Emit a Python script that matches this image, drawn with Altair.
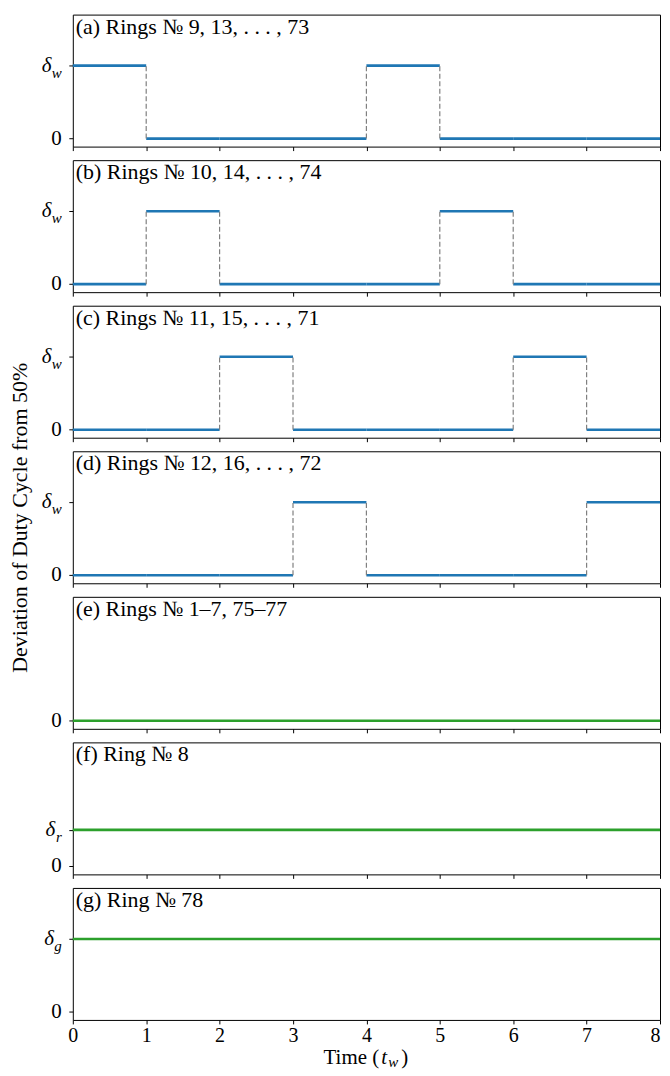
import altair as alt
import pandas as pd

FONT = "Liberation Serif"
BLUE = "#1f77b4"
GREEN = "#2ca02c"
GREY = "#808080"

# ---- data ----
time_ticks = [0, 1, 2, 3, 4, 5, 6, 7, 8]
delta_w = 1.0
delta_r = 0.5
delta_g = 1.0

step_a = [1, 0, 0, 0, 1, 0, 0, 0]
step_b = [0, 1, 0, 0, 0, 1, 0, 0]
step_c = [0, 0, 1, 0, 0, 0, 1, 0]
step_d = [0, 0, 0, 1, 0, 0, 0, 1]

level_e = 0.0
level_f = delta_r
level_g = delta_g

titles = [
    "(a) Rings № 9, 13, . . . , 73",
    "(b) Rings № 10, 14, . . . , 74",
    "(c) Rings № 11, 15, . . . , 71",
    "(d) Rings № 12, 16, . . . , 72",
    "(e) Rings № 1–7, 75–77",
    "(f) Ring № 8",
    "(g) Ring № 78",
]

# y ticks: (value, main symbol, subscript)
yticks_step = [(0.0, "0", ""), (delta_w, "δ", "w")]
yticks_e = [(0.0, "0", "")]
yticks_f = [(0.0, "0", ""), (delta_r, "δ", "r")]
yticks_g = [(0.0, "0", ""), (delta_g, "δ", "g")]

Y_DOMAIN = [-0.11, 1.70]
W, H = 589, 132.4
FS = 21
SUB_W = {"": 0, "w": 10.0, "r": 6.0, "g": 7.5}


def enc_x(bottom):
    return alt.X(
        "x:Q",
        scale=alt.Scale(domain=[0, 8], nice=False, zero=False),
        axis=alt.Axis(
            values=time_ticks, labels=bottom, title=None, grid=False, domain=False,
            tickSize=4, tickColor="black", tickWidth=1, labelFontSize=20,
            labelFont=FONT, labelColor="black", labelPadding=2, format="d",
            labelFlush=False,
            labelAlign={"condition": {"test": "datum.value == 8", "value": "right"},
                        "value": "center"},
        ),
    )


def enc_y(ticks, title):
    kw = dict(
        values=[t[0] for t in ticks], labels=False, grid=False, domain=False,
        tickSize=4, tickColor="black", tickWidth=1,
    )
    if title:
        kw.update(title=title, titleFont=FONT, titleFontSize=22, titleFontWeight="normal",
                  titleColor="black", titlePadding=37)
    else:
        kw.update(title=None)
    return alt.Y("y:Q", scale=alt.Scale(domain=Y_DOMAIN, nice=False, zero=False),
                 axis=alt.Axis(**kw))


def label_layers(ticks, ex, ey):
    layers = []
    for val, main, sub in ticks:
        df = pd.DataFrame({"x": [0], "y": [val]})
        sw = SUB_W[sub]
        layers.append(
            alt.Chart(df).mark_text(
                align="right", baseline="middle", fontSize=FS, font=FONT,
                fontStyle="italic" if main == "δ" else "normal", color="black",
            ).encode(x=alt.value(-11 - sw - (0.5 if sub else 0)), y=ey, text=alt.value(main))
        )
        if sub:
            layers.append(
                alt.Chart(df).mark_text(
                    align="right", baseline="middle", fontSize=15, font=FONT,
                    fontStyle="italic", color="black", dy=7,
                ).encode(x=alt.value(-11), y=ey, text=alt.value(sub))
            )
    return layers


def title_layer(text, ey):
    df = pd.DataFrame({"x": [0], "y": [0]})
    return alt.Chart(df).mark_text(
        align="left", baseline="top", fontSize=22, font=FONT, color="black",
    ).encode(x=alt.value(3), y=alt.value(2), text=alt.value(text))


def step_panel(levels, title, ytitle=None):
    ex = enc_x(False)
    ey = enc_y(yticks_step, ytitle)
    seg = pd.DataFrame({
        "x": time_ticks[:-1], "x2": time_ticks[1:],
        "y": [l * delta_w for l in levels],
    })
    trans_x = [time_ticks[i] for i in range(1, len(levels)) if levels[i] != levels[i - 1]]
    tr = pd.DataFrame({"x": trans_x, "y": [0.0] * len(trans_x), "y2": [delta_w] * len(trans_x)})
    dashed = alt.Chart(tr).mark_rule(color=GREY, strokeWidth=1.2, strokeDash=[5, 2.5]).encode(
        x=ex, y=ey, y2="y2:Q")
    lines = alt.Chart(seg).mark_rule(color=BLUE, strokeWidth=2.6, strokeCap="butt").encode(
        x=ex, x2="x2:Q", y=ey)
    layers = [lines, dashed, title_layer(title, ey)] + label_layers(yticks_step, ex, ey)
    return alt.layer(*layers).properties(width=W, height=H)


def const_panel(level, ticks, title, bottom=False):
    ex = enc_x(bottom)
    ey = enc_y(ticks, None)
    df = pd.DataFrame({"x": [time_ticks[0]], "x2": [time_ticks[-1]], "y": [level]})
    line = alt.Chart(df).mark_rule(color=GREEN, strokeWidth=2.6, strokeCap="butt").encode(
        x=ex, x2="x2:Q", y=ey)
    layers = [line, title_layer(title, ey)] + label_layers(ticks, ex, ey)
    if bottom:
        tdf = pd.DataFrame({"x": [0], "y": [0]})
        cx = W / 2
        pieces = [
            ("Time (", "normal", FS, cx - 43, 0),
            ("t", "italic", FS, cx + 15, 0),
            ("w", "italic", 15, cx + 22, 3),
            (")", "normal", FS, cx + 35, 0),
        ]
        for txt, style, fs, px, dy in pieces:
            layers.append(
                alt.Chart(tdf).mark_text(
                    align="left", baseline="alphabetic", fontSize=fs, font=FONT,
                    fontStyle=style, color="black", dy=dy,
                ).encode(x=alt.value(px), y=alt.value(H + 44.5), text=alt.value(txt))
            )
    return alt.layer(*layers).properties(width=W, height=H)


panels = [
    step_panel(step_a, titles[0]),
    step_panel(step_b, titles[1]),
    step_panel(step_c, titles[2]),
    step_panel(step_d, titles[3], ytitle="Deviation of Duty Cycle from 50%"),
    const_panel(level_e, yticks_e, titles[4]),
    const_panel(level_f, yticks_f, titles[5]),
    const_panel(level_g, yticks_g, titles[6], bottom=True),
]

chart = alt.vconcat(*panels, spacing=13, bounds="flush").properties(
    padding={"left": 0, "top": 4, "right": 0, "bottom": 0}
).configure(font=FONT).configure_view(stroke="black", strokeWidth=1)

chart.save("out.html", embed_options={"renderer": "svg", "actions": False})
